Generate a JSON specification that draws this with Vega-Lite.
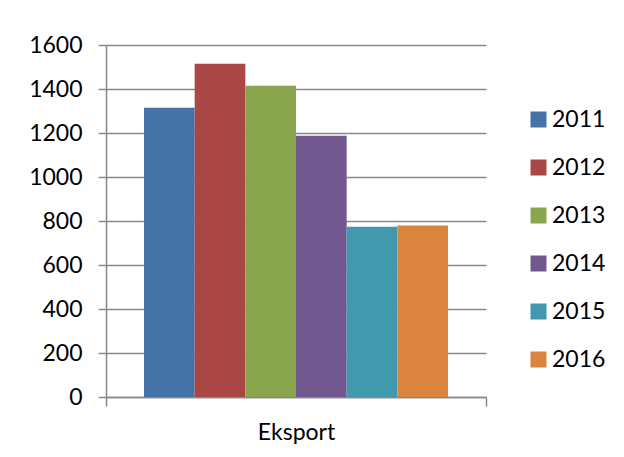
{
  "$schema": "https://vega.github.io/schema/vega-lite/v6.json",
  "autosize": "none",
  "width": 380,
  "height": 352,
  "padding": {"left": 106, "top": 45, "right": 138, "bottom": 60},
  "background": "white",
  "data": {
    "values": [
      {"category": "Eksport", "year": "2011", "value": 1315},
      {"category": "Eksport", "year": "2012", "value": 1515},
      {"category": "Eksport", "year": "2013", "value": 1415},
      {"category": "Eksport", "year": "2014", "value": 1188},
      {"category": "Eksport", "year": "2015", "value": 774},
      {"category": "Eksport", "year": "2016", "value": 780}
    ]
  },
  "mark": {"type": "bar"},
  "encoding": {
    "x": {
      "field": "category",
      "type": "nominal",
      "scale": {"paddingInner": 0, "paddingOuter": 0},
      "axis": {
        "title": null,
        "labelAngle": 0,
        "tickBand": "extent",
        "tickSize": 9,
        "domainColor": "#888888",
        "tickColor": "#888888",
        "domainWidth": 1.5,
        "tickWidth": 1.5,
        "labelFont": "Lato",
        "labelFontSize": 23,
        "labelColor": "#000000",
        "labelPadding": 15,
        "labelLimit": 300,
        "grid": false
      }
    },
    "xOffset": {
      "field": "year",
      "type": "nominal",
      "scale": {"paddingInner": 0, "paddingOuter": 0.75}
    },
    "y": {
      "field": "value",
      "type": "quantitative",
      "scale": {"domain": [0, 1600], "nice": false},
      "axis": {
        "title": null,
        "format": "d",
        "values": [0, 200, 400, 600, 800, 1000, 1200, 1400, 1600],
        "tickSize": 8,
        "labelPadding": 16,
        "grid": true,
        "gridColor": "#888888",
        "gridWidth": 1.5,
        "domain": true,
        "domainColor": "#888888",
        "domainWidth": 1.5,
        "tickColor": "#888888",
        "tickWidth": 1.5,
        "labelFont": "Lato",
        "labelFontSize": 23,
        "labelColor": "#000000"
      }
    },
    "color": {
      "field": "year",
      "type": "nominal",
      "scale": {"range": ["#4572A7", "#AA4643", "#89A54E", "#71588F", "#4198AF", "#DB843D"]},
      "legend": {
        "title": null,
        "orient": "none",
        "legendX": 421,
        "legendY": 63,
        "symbolType": "square",
        "symbolSize": 256,
        "symbolStrokeWidth": 0,
        "symbolOpacity": 1,
        "labelFont": "Lato",
        "labelFontSize": 23,
        "labelColor": "#000000",
        "labelOffset": 2,
        "rowPadding": 24,
        "padding": 0
      }
    }
  },
  "config": {
    "view": {"stroke": null},
    "axisX": {"labelFontSize": 23, "labelFont": "Lato"}
  }
}
